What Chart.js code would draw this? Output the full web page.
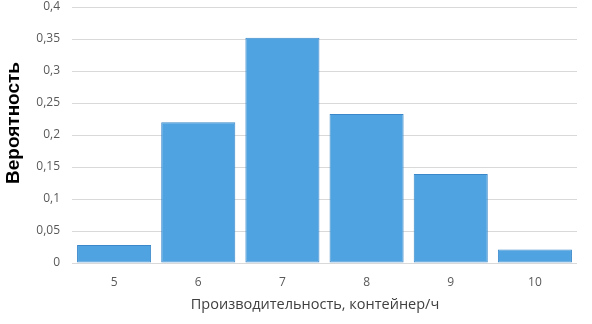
<!DOCTYPE html>
<html>
<head>
<meta charset="utf-8">
<script src="https://cdn.jsdelivr.net/npm/chart.js@4"></script>
<style>
html,body{margin:0;padding:0;background:#fff;}
#wrap{width:592px;height:324px;position:relative;}
</style>
</head>
<body>
<div id="wrap"><canvas id="c" width="592" height="324"></canvas></div>
<script>
const categories = ['5', '6', '7', '8', '9', '10'];
const probabilities = [0.028, 0.22, 0.352, 0.233, 0.139, 0.021];
const yTickLabels = ['0', '0,05', '0,1', '0,15', '0,2', '0,25', '0,3', '0,35', '0,4'];
const yAxisTitle = 'Вероятность';
const xAxisTitle = 'Производительность, контейнер/ч';

const tickFont = {family: '"Open Sans", sans-serif', size: 12};

const axisTitlesPlugin = {
  id: 'axisTitles',
  afterDraw(chart) {
    const ctx = chart.ctx;
    ctx.save();
    ctx.translate(19, 123);
    ctx.rotate(-Math.PI / 2);
    ctx.font = 'bold 19px "Liberation Sans", Arial, sans-serif';
    ctx.fillStyle = '#000000';
    ctx.textAlign = 'center';
    ctx.textBaseline = 'alphabetic';
    ctx.fillText(yAxisTitle, 0, 0);
    ctx.restore();

    ctx.save();
    ctx.font = '14.5px "Open Sans", sans-serif';
    ctx.fillStyle = '#404040';
    ctx.textAlign = 'center';
    ctx.textBaseline = 'alphabetic';
    ctx.fillText(xAxisTitle, 315, 309);
    ctx.restore();
  }
};

new Chart(document.getElementById('c'), {
  type: 'bar',
  data: {
    labels: categories,
    datasets: [{
      data: probabilities,
      backgroundColor: '#4FA3E0',
      borderColor: '#3A88CA',
      borderWidth: 1,
      borderSkipped: false,
      barPercentage: 0.88,
      categoryPercentage: 1.0
    }]
  },
  options: {
    responsive: false,
    animation: false,
    devicePixelRatio: 1,
    layout: {padding: {top: 7, right: 15, left: 0, bottom: 0}},
    plugins: {legend: {display: false}, tooltip: {enabled: false}},
    scales: {
      x: {
        grid: {display: false, drawTicks: false},
        border: {display: false},
        ticks: {color: '#595959', font: tickFont, padding: 12},
        title: {display: false},
        afterFit: s => { s.height = 61; }
      },
      y: {
        min: 0, max: 0.4,
        ticks: {stepSize: 0.05, color: '#595959', font: tickFont, padding: 12,
                callback: (v, i) => yTickLabels[i]},
        grid: {color: '#D9D9D9', lineWidth: 1, drawTicks: false},
        border: {display: false},
        title: {display: false},
        afterFit: s => { s.width = 72; s.paddingTop = 0; s.paddingBottom = 0; }
      }
    }
  },
  plugins: [axisTitlesPlugin]
});
</script>
</body>
</html>
